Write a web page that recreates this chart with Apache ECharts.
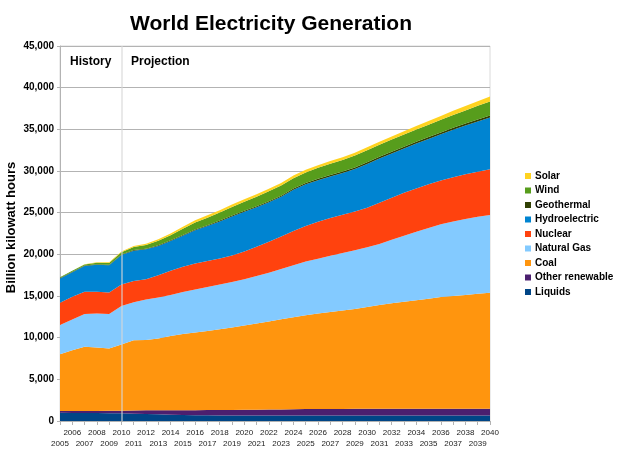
<!DOCTYPE html>
<html>
<head>
<meta charset="utf-8">
<script src="https://cdn.jsdelivr.net/npm/echarts@6/dist/echarts.min.js"></script>
<style>html,body{margin:0;padding:0;background:#fff}#c{width:623px;height:467px}</style>
</head>
<body>
<div id="c"></div>
<script>
// years on the x axis, 2005 .. 2040
const years = ["2005","2006","2007","2008","2009","2010","2011","2012","2013","2014","2015","2016",
  "2017","2018","2019","2020","2021","2022","2023","2024","2025","2026",
  "2027","2028","2029","2030","2031","2032","2033","2034","2035","2036","2037","2038","2039","2040"];
// billion kWh (stack order bottom -> top)
const liquids = [980,970,960,950,940,920,880,840,800,760,720,690,680,670,670,660,660,660,660,655,655,650,650,650,650,650,650,650,650,650,650,650,650,650,650,650];
const otherRenewable = [220,230,250,260,280,310,390,440,490,530,580,610,630,650,660,680,690,710,730,755,775,790,800,805,810,810,815,820,820,820,820,820,820,820,820,820];
const coal = [6820,7300,7690,7620,7480,7950,8430,8450,8610,8910,9150,9320,9490,9680,9890,10110,10350,10580,10810,11050,11270,11460,11630,11800,11990,12220,12470,12660,12850,13030,13210,13400,13530,13660,13790,13920];
const naturalGas = [3500,3690,3930,4080,4130,4610,4550,4860,4930,4910,5020,5170,5280,5380,5460,5570,5700,5850,6050,6240,6430,6580,6740,6900,7050,7170,7320,7620,7910,8200,8470,8730,8950,9120,9240,9340];
const nuclear = [2680,2710,2680,2600,2600,2600,2550,2420,2650,2920,3040,3110,3120,3120,3190,3330,3500,3700,3900,4100,4270,4420,4530,4600,4650,4750,4950,5050,5170,5200,5250,5250,5300,5350,5420,5490];
const hydro = [2900,2950,3080,3250,3250,3530,3640,3600,3520,3570,3730,4000,4200,4450,4680,4750,4750,4750,4750,4950,5000,5000,5000,5000,5100,5250,5300,5300,5300,5400,5450,5550,5700,5850,6030,6200];
const geothermal = [60,60,62,64,66,68,72,75,80,85,90,95,100,105,112,120,128,135,142,150,158,165,172,178,184,190,196,202,208,214,220,226,232,238,244,250];
const wind = [100,120,140,180,210,260,370,450,560,620,750,830,900,960,1010,1080,1130,1180,1210,1240,1270,1320,1360,1400,1440,1460,1460,1470,1470,1480,1490,1510,1550,1580,1630,1670];
const solar = [5,6,8,40,80,100,130,150,170,190,220,260,280,290,300,300,300,305,310,310,310,310,315,320,330,340,355,370,390,410,430,460,490,520,560,600];

const layers = [
  ["Liquids", liquids, "#004586"],
  ["Other renewable", otherRenewable, "#4b1f6f"],
  ["Coal", coal, "#ff950e"],
  ["Natural Gas", naturalGas, "#83caff"],
  ["Nuclear", nuclear, "#ff420e"],
  ["Hydroelectric", hydro, "#0084d1"],
  ["Geothermal", geothermal, "#314004"],
  ["Wind", wind, "#579d1c"],
  ["Solar", solar, "#ffd320"]
];
const FONT = "Liberation Sans, Arial, sans-serif";

const series = layers.map(([name, data, color], i) => ({
  name, type: "line", stack: "total", data, symbol: "none", smooth: false,
  lineStyle: { width: 0 }, itemStyle: { color }, areaStyle: { color, opacity: 1 },
  emphasis: { disabled: true },
  markLine: i === layers.length - 1 ? {
    silent: true, symbol: "none", label: { show: false },
    lineStyle: { color: "rgba(215,215,215,0.55)", width: 2, type: "solid" },
    data: [{ xAxis: "2010" }]
  } : undefined
}));

const chart = echarts.init(document.getElementById("c"));
chart.setOption({
  animation: false,
  backgroundColor: "#fff",
  textStyle: { fontFamily: FONT },
  title: { text: "World Electricity Generation", left: 130, top: 14, padding: 0,
    textStyle: { fontFamily: FONT, fontSize: 21, fontWeight: "bold", color: "#000" } },
  grid: { left: 60, right: 133, top: 46, bottom: 46, outerBoundsMode: "none", containLabel: false,
    show: true, borderColor: "#dadada", borderWidth: 1 },
  legend: {
    orient: "vertical", left: 525, top: 170, padding: 0, itemGap: 2.5,
    itemWidth: 6, itemHeight: 6, icon: "rect",
    data: layers.map(l => l[0]).reverse(),
    textStyle: { fontFamily: FONT, fontSize: 10, fontWeight: "bold", color: "#000", lineHeight: 12, padding: [0, 0, 0, -1] }
  },
  graphic: [
    { type: "text", left: 70, top: 56, style: { text: "History", font: "bold 12px " + FONT, fill: "#000" } },
    { type: "text", left: 131, top: 56, style: { text: "Projection", font: "bold 12px " + FONT, fill: "#000" } }
  ],
  xAxis: {
    type: "category", data: years, boundaryGap: false,
    axisLine: { lineStyle: { color: "#b3b3b3" } },
    axisTick: { show: true, interval: 0, length: 4, lineStyle: { color: "#b3b3b3" } },
    axisLabel: { interval: 0, margin: 7, fontSize: 8, lineHeight: 10.5, color: "#222",
      formatter: v => (+v % 2 ? "\n" + v : v) },
    splitLine: { show: false }
  },
  yAxis: {
    type: "value", min: 0, max: 45000, interval: 5000,
    name: "Billion kilowatt hours", nameLocation: "middle", nameGap: 42, nameMoveOverlap: false,
    nameTextStyle: { fontFamily: FONT, fontSize: 13, fontWeight: "bold", color: "#000", padding: [0, 0, 0, 12] },
    axisLine: { show: true, lineStyle: { color: "#b3b3b3" } },
    axisTick: { show: true, length: 3, lineStyle: { color: "#b3b3b3" } },
    axisLabel: { margin: 6, fontSize: 10, fontWeight: "bold", color: "#000",
      formatter: v => v.toLocaleString("en-US") },
    splitLine: { lineStyle: { color: "#b3b3b3", width: 1 } }
  },
  series
});
</script>
</body>
</html>
